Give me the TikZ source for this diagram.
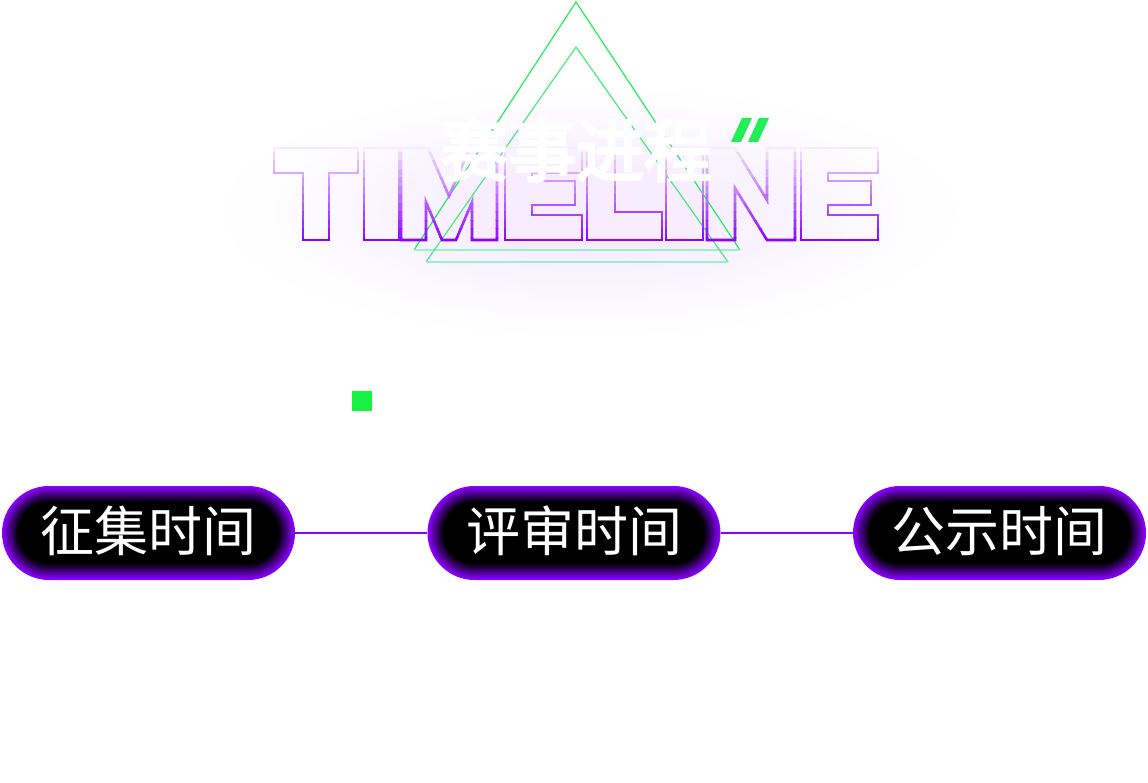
\documentclass[tikz,border=0pt]{standalone}
\usepackage{fontspec}
\newfontfamily\cjk{Noto Sans CJK SC}
\newfontfamily\cjkb{Noto Sans CJK SC}[FakeBold=4]
\usetikzlibrary{shapes.geometric}
\definecolor{vio}{HTML}{8A00FF}
\definecolor{neon}{HTML}{22EE55}
\definecolor{mint}{HTML}{99EECC}
\tikzset{
 pilltxt/.style={text=white,font=\cjk\fontsize{54}{54}\selectfont},
 link/.style={vio,line width=1.5pt},
}
\newcommand\letters{%
 % T
 \draw (274,148) -- (358,148) -- (358,173) -- (329,173) -- (329,240) -- (303,240) -- (303,173) -- (274,173) -- cycle;
 % I
 \draw (364,148) rectangle (399,240);
 % M
 \draw (401,148) -- (428,148) -- (449,196) -- (470,148) -- (497,148) -- (497,240) -- (472,240) -- (472,202) -- (456,240) -- (442,240) -- (426,202) -- (426,240) -- (401,240) -- cycle;
 % E
 \draw (505,148) -- (582,148) -- (582,173) -- (532,173) -- (532,181) -- (575,181) -- (575,205) -- (532,205) -- (532,215) -- (582,215) -- (582,240) -- (505,240) -- cycle;
 % L
 \draw (587,148) -- (615,148) -- (615,212) -- (662,212) -- (662,240) -- (587,240) -- cycle;
 % I
 \draw (666,148) rectangle (703,240);
 % N
 \draw (707,148) -- (735,148) -- (767,200) -- (767,148) -- (795,148) -- (795,240) -- (767,240) -- (735,188) -- (735,240) -- (707,240) -- cycle;
 % E
 \draw (801,148) -- (878,148) -- (878,173) -- (828,173) -- (828,181) -- (871,181) -- (871,205) -- (828,205) -- (828,215) -- (878,215) -- (878,240) -- (801,240) -- cycle;
}
\begin{document}
\begin{tikzpicture}[x=1pt,y=-1pt]
\useasboundingbox (0,0) rectangle (1148,783);
% glow
\foreach \i in {0,...,20}{
 \fill[vio!\the\numexpr 1+\i/3\relax!white,opacity=0.12] (590,212) ellipse ({380-\i*13} and {128-\i*4});
}
% triangles
\draw[neon,line width=1.2pt] (414,250) -- (576,2) -- (740,250);
\draw[mint,line width=1.2pt] (414,250) -- (740,250);
\draw[neon!70!mint,line width=1.2pt] (426,262) -- (576,47) -- (728,262);
\draw[mint,line width=1.2pt] (426,262) -- (728,262);
% TIMELINE outline with vertical gradient (banded)
\foreach \b in {0,...,11}{
 \pgfmathsetmacro\pc{8+\b*8.3}
 \begin{scope}[line width=2.6pt,draw=vio!\pc!white,line join=miter]
  \clip (260,{144+\b*8.5}) rectangle (890,{152.5+\b*8.5});
  \letters
 \end{scope}
}
% title
\node[anchor=south west,inner sep=0,text=white] (ti) at (440,182)
 {\resizebox{272pt}{!}{\cjkb\fontsize{62}{62}\selectfont 赛事进程}};
\fill[neon] (742,118) -- (752,118) -- (741,142) -- (731,142) -- cycle;
\fill[neon] (759,118) -- (769,118) -- (758,142) -- (748,142) -- cycle;
% green square
\fill[neon!80!green] (352,391) rectangle (372,411);
% pills
\foreach \n/\cx/\t in {p1/148.5/征集时间,p2/574/评审时间,p3/999.5/公示时间}{
 \foreach \k in {0,...,12}{
  \pgfmathsetmacro\ins{\k*1.3}
  \pgfmathsetmacro\pc{100-\k*8.3}
  \fill[vio!\pc!black,rounded corners={(47-\ins)*1pt}] ({\cx-146.5+\ins},{486+\ins}) rectangle ({\cx+146.5-\ins},{580-\ins});
 }
 \node[pilltxt] (\n) at (\cx,531) {\t};
}
\coordinate (a1) at (295,533); \coordinate (a2) at (427,533);
\coordinate (b1) at (721,533); \coordinate (b2) at (853,533);
\draw[link] (a1) -- (a2);
\draw[link] (b1) -- (b2);
\end{tikzpicture}
\end{document}
